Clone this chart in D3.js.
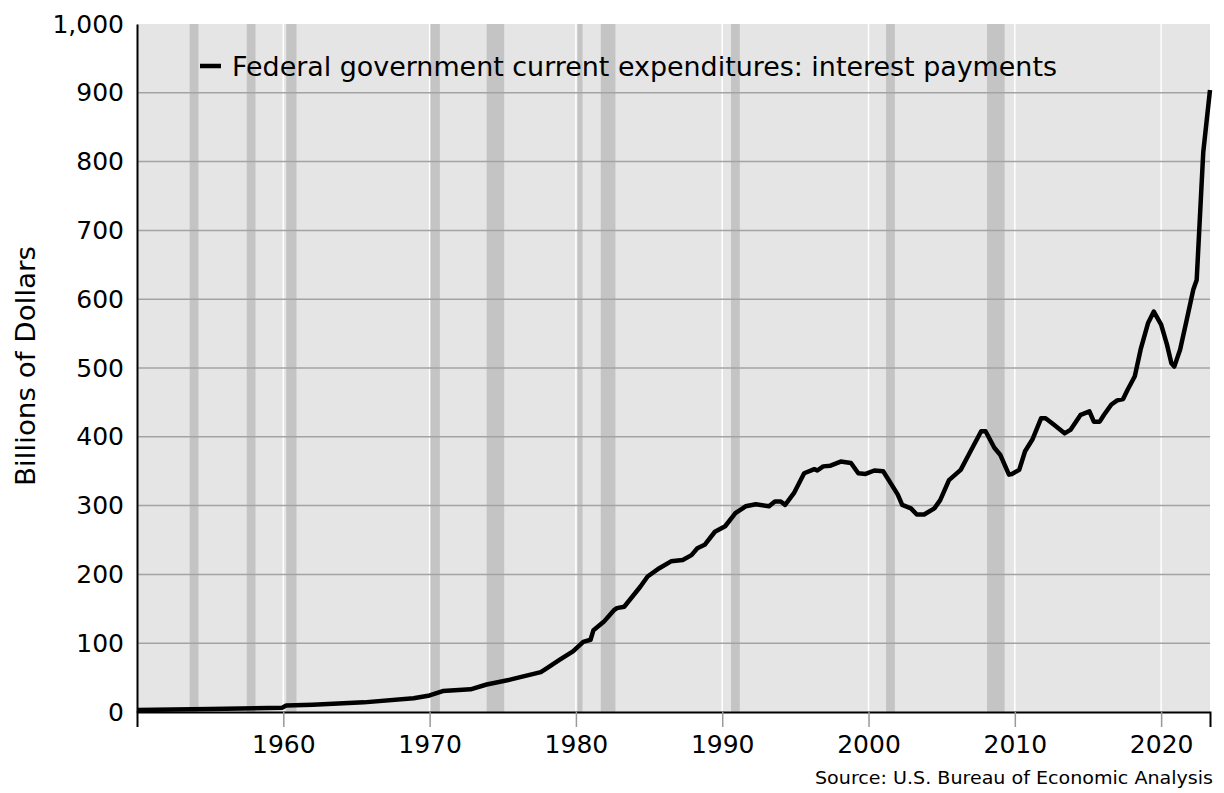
<!DOCTYPE html>
<html><head><meta charset="utf-8">
<script src="https://cdn.jsdelivr.net/npm/d3@7/dist/d3.min.js"></script>
<style>body{margin:0;background:#fff}svg{display:block}</style>
</head><body>
<svg id="c" width="1224" height="793"></svg>
<script>
const years = [1950,1955,1959.9,1960.2,1962,1965.5,1968.9,1970.0,1970.9,1972.8,1973.9,1975.5,1977.6,1978.0,1978.9,1979.8,1980.5,1981.0,1981.2,1981.9,1982.6,1982.8,1983.3,1984.4,1984.9,1985.7,1986.5,1987.3,1987.9,1988.3,1988.8,1989.5,1990.2,1990.9,1991.6,1992.3,1993.2,1993.6,1994.0,1994.3,1994.9,1995.6,1996.3,1996.5,1996.9,1997.4,1998.1,1998.8,1999.3,1999.8,2000.4,2001.0,2001.5,2002.0,2002.3,2002.9,2003.3,2003.8,2004.5,2004.9,2005.5,2006.3,2007.0,2007.7,2008.0,2008.6,2009.0,2009.6,2009.8,2010.3,2010.7,2011.2,2011.8,2012.1,2012.7,2013.4,2013.8,2014.5,2015.1,2015.4,2015.8,2016.1,2016.6,2017.0,2017.4,2017.7,2018.2,2018.6,2019.1,2019.5,2020.0,2020.4,2020.7,2020.9,2021.3,2021.75,2022.2,2022.43,2022.88,2023.34];
const values = [3,4.5,6,9.5,10.5,14,20,24,30.5,33,40,47,58,63.5,76,88,102,105,119,131,148,151,153,182,197,209,219,221,228,238,243,262,270,289,299,302,299,306,306,301,318,347,353,351,357,358,364,362,347,346,351,350,333,316,301,296,287,287,296,308,337,352,380,408,408,384,374,345,346,352,379,396,427,427,417,405,410,432,437,422,422,432,447,453,455,468,488,527,565,582,563,534,507,502,527,570,614,628,814,904];
const recStart = [1953.6,1957.5,1960.2,1970.0,1973.9,1980.1,1981.7,1990.6,2001.2,2008.1];
const recEnd   = [1954.2,1958.1,1960.9,1970.7,1975.1,1980.45,1982.7,1991.2,2001.8,2009.3];
const yTicks = [0,100,200,300,400,500,600,700,800,900,1000];
const xTicks = [1960,1970,1980,1990,2000,2010,2020];
const seriesName = "Federal government current expenditures: interest payments";
const yTitle = "Billions of Dollars";
const source = "Source: U.S. Bureau of Economic Analysis";

const svg = d3.select("#c");
const L = 137, R = 1210, T = 24, B = 712;
const x = d3.scaleLinear().domain([1950, 2023.34]).range([L, R]);
const y = d3.scaleLinear().domain([0, 1000]).range([B, T]);
const font = "'DejaVu Sans', sans-serif";

svg.append("rect").attr("x", L).attr("y", T).attr("width", R - L).attr("height", B - T).attr("fill", "#e5e5e5");
svg.append("g").selectAll("rect").data(recStart).join("rect")
  .attr("x", (d) => x(d)).attr("y", T)
  .attr("width", (d, i) => x(recEnd[i]) - x(d)).attr("height", B - T)
  .attr("fill", "#c4c4c4");
svg.append("g").selectAll("line").data(xTicks).join("line")
  .attr("x1", d => x(d)).attr("x2", d => x(d)).attr("y1", T).attr("y2", B)
  .attr("stroke", "#fff").attr("stroke-width", 1.5);
svg.append("g").selectAll("line").data(yTicks.slice(1, -1)).join("line")
  .attr("x1", L).attr("x2", R).attr("y1", d => y(d)).attr("y2", d => y(d))
  .attr("stroke", "#a3a3a3").attr("stroke-width", 1.5);

const data = years.map((yr, i) => [yr, values[i]]);
svg.append("path").datum(data)
  .attr("fill", "none").attr("stroke", "#000").attr("stroke-width", 4.5)
  .attr("stroke-linejoin", "round").attr("stroke-linecap", "butt")
  .attr("d", d3.line().x(d => x(d[0])).y(d => y(d[1])));

// axes
const yAxis = svg.append("g").attr("transform", `translate(${L},0)`)
  .call(d3.axisLeft(y).tickValues(yTicks).tickSize(0).tickPadding(13).tickFormat(d3.format(",")));
yAxis.select(".domain").attr("stroke", "#000").attr("stroke-width", 2);
yAxis.selectAll("text").attr("font-family", font).attr("font-size", 25).attr("fill", "#000");

const xAxis = svg.append("g").attr("transform", `translate(0,${B})`)
  .call(d3.axisBottom(x).tickValues(xTicks).tickSize(15).tickPadding(8).tickFormat(d3.format("d")));
xAxis.select(".domain").attr("stroke", "#000").attr("stroke-width", 2);
xAxis.selectAll(".tick line").attr("stroke", "#999").attr("stroke-width", 1.5);
xAxis.selectAll("text").attr("font-family", font).attr("font-size", 25).attr("fill", "#000");

// legend
svg.append("line").attr("x1", 200).attr("x2", 221).attr("y1", 66).attr("y2", 66)
  .attr("stroke", "#000").attr("stroke-width", 4.5);
svg.append("text").attr("x", 232).attr("y", 76).attr("font-family", font).attr("font-size", 26)
  .attr("fill", "#000").attr("textLength", 825).attr("lengthAdjust", "spacingAndGlyphs").text(seriesName);

svg.append("text").attr("transform", "translate(35,366) rotate(-90)").attr("text-anchor", "middle")
  .attr("font-family", font).attr("font-size", 26).attr("fill", "#000")
  .attr("textLength", 240).attr("lengthAdjust", "spacingAndGlyphs").text(yTitle);

svg.append("text").attr("x", 1213).attr("y", 784).attr("text-anchor", "end")
  .attr("font-family", font).attr("font-size", 18).attr("fill", "#000")
  .attr("textLength", 398).attr("lengthAdjust", "spacingAndGlyphs").text(source);
</script>
</body></html>
